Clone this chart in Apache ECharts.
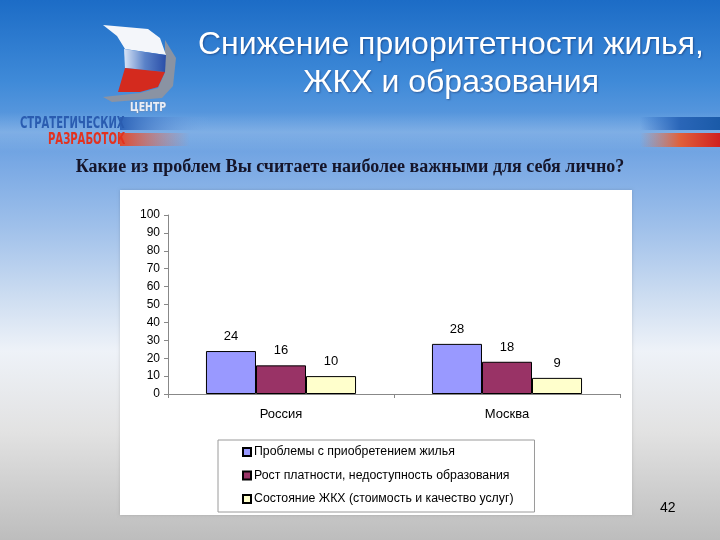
<!DOCTYPE html>
<html><head><meta charset="utf-8">
<script src="https://cdn.jsdelivr.net/npm/echarts@6/dist/echarts.min.js"></script>
<style>html,body{margin:0;padding:0;}#c{width:720px;height:540px;}</style>
</head><body><div id="c"></div>
<script>
const categories = ['Россия', 'Москва'];
const seriesNames = ['Проблемы с приобретением жилья', 'Рост платности, недоступность образования', 'Состояние ЖКХ (стоимость и качество услуг)'];
const housing = [24, 28];
const education = [16, 18];
const utilities = [10, 9];
const yTicks = [0, 10, 20, 30, 40, 50, 60, 70, 80, 90, 100];
const titleText = 'Снижение приоритетности жилья,\nЖКХ и образования';
const questionText = 'Какие из проблем Вы считаете наиболее важными для себя лично?';
const pageNumber = '42';

const colors = ['#9999FF', '#993366', '#FFFFCC'];
const chart = echarts.init(document.getElementById('c'));
const mk = (name, data, i) => ({
  name, type: 'bar', data, barGap: '0%', barCategoryGap: '33.6%',
  itemStyle: { color: colors[i], borderColor: '#000', borderWidth: 1 },
  label: { show: true, position: 'top', distance: 8, color: '#000', fontFamily: 'Liberation Sans, Arial', fontSize: 13 },
  z: 5
});
chart.setOption({
  backgroundColor: { type: 'linear', x: 0, y: 0, x2: 0, y2: 1, colorStops: [
    { offset: 0, color: '#1c6cc6' }, { offset: 0.15, color: '#3f8ad8' },
    { offset: 0.3, color: '#78a8e4' }, { offset: 0.42, color: '#9fc0ea' },
    { offset: 0.55, color: '#cdddf1' }, { offset: 0.65, color: '#eef2f8' },
    { offset: 0.8, color: '#e2e2e2' }, { offset: 1, color: '#bdbdbd' } ] },
  animation: false,
  title: [
    { text: titleText, left: 446, top: 21, textAlign: 'center',
      textStyle: { color: '#fff', fontFamily: 'Liberation Sans, Arial', fontWeight: 'normal', fontSize: 32, lineHeight: 38, align: 'center',
        textShadowColor: 'rgba(0,0,40,0.35)', textShadowBlur: 2, textShadowOffsetX: 1, textShadowOffsetY: 1 } },
    { text: questionText, left: 345, top: 153, textAlign: 'center',
      textStyle: { color: '#15152a', fontFamily: 'Liberation Serif, Times New Roman', fontWeight: 'bold', fontSize: 18 } },
    { text: pageNumber, left: 655, top: 496,
      textStyle: { color: '#000', fontFamily: 'Liberation Sans, Arial', fontWeight: 'normal', fontSize: 14 } }
  ],
  graphic: [
    { type: 'rect', shape: { x: 0, y: 112, width: 720, height: 40 }, style: { fill: { type: 'linear', x: 0, y: 0, x2: 0, y2: 1, colorStops: [{offset:0,color:'rgba(255,255,255,0)'},{offset:0.5,color:'rgba(255,255,255,0.18)'},{offset:1,color:'rgba(255,255,255,0)'}] } }, z: -5, silent: true },
    { type: 'rect', shape: { x: 120, y: 117, width: 90, height: 13 }, style: { fill: { type: 'linear', x: 0, y: 0, x2: 1, y2: 0, colorStops: [{offset:0,color:'#2d63b8'},{offset:1,color:'rgba(120,170,230,0)'}] } }, z: -4, silent: true },
    { type: 'rect', shape: { x: 120, y: 133, width: 70, height: 13 }, style: { fill: { type: 'linear', x: 0, y: 0, x2: 1, y2: 0, colorStops: [{offset:0,color:'#e04a30'},{offset:1,color:'rgba(230,120,90,0)'}] } }, z: -4, silent: true },
    { type: 'rect', shape: { x: 640, y: 117, width: 80, height: 13 }, style: { fill: { type: 'linear', x: 0, y: 0, x2: 1, y2: 0, colorStops: [{offset:0,color:'rgba(40,100,190,0)'},{offset:0.5,color:'#2a66b8'},{offset:1,color:'#1a5aa8'}] } }, z: -4, silent: true },
    { type: 'rect', shape: { x: 640, y: 133, width: 80, height: 14 }, style: { fill: { type: 'linear', x: 0, y: 0, x2: 1, y2: 0, colorStops: [{offset:0,color:'rgba(230,120,80,0)'},{offset:0.5,color:'#e0603a'},{offset:1,color:'#d02020'}] } }, z: -4, silent: true },
    { type: 'polygon', shape: { points: [[165,40],[176,58],[173,86],[162,98],[112,102],[103,97],[140,93],[158,88],[165,72]] }, style: { fill: '#8a93a3' }, z: -3, silent: true },
    { type: 'polygon', shape: { points: [[103,25],[148,29],[160,38],[166,55],[125,49],[117,36]] }, style: { fill: '#f4f6fa' }, z: -2, silent: true },
    { type: 'polygon', shape: { points: [[124,49],[166,55],[165,72],[125,68]] }, style: { fill: { type: 'linear', x: 0, y: 0, x2: 1, y2: 0, colorStops: [{offset:0,color:'#d8e4f6'},{offset:0.5,color:'#5a82c8'},{offset:1,color:'#2a4ea8'}] } }, z: -2, silent: true },
    { type: 'polygon', shape: { points: [[125,68],[165,72],[158,87],[140,92],[118,92]] }, style: { fill: '#d42a1e' }, z: -2, silent: true },
    { type: 'text', x: 130, y: 108, scaleX: 0.8, style: { x: 0, y: 0, text: 'ЦЕНТР', fill: '#e8eef8', stroke: '#7a869a', lineWidth: 0.6, font: 'bold 13px DejaVu Sans Condensed', textVerticalAlign: 'middle' }, z: -1, silent: true },
    { type: 'text', x: 20, y: 124, scaleX: 0.72, style: { x: 0, y: 0, text: 'СТРАТЕГИЧЕСКИХ', fill: '#2a5cb0', font: 'bold 15.5px DejaVu Sans Condensed', textVerticalAlign: 'middle' }, z: -1, silent: true },
    { type: 'text', x: 48, y: 140, scaleX: 0.72, style: { x: 0, y: 0, text: 'РАЗРАБОТОК', fill: '#e2321f', font: 'bold 15.5px DejaVu Sans Condensed', textVerticalAlign: 'middle' }, z: -1, silent: true },
    { type: 'rect', shape: { x: 120, y: 190, width: 512, height: 325 }, style: { fill: '#ffffff', shadowColor: 'rgba(0,0,0,0.15)', shadowBlur: 3 }, z: 0, silent: true }
  ],
  legend: {
    orient: 'vertical', left: 218, top: 440, itemWidth: 8, itemHeight: 8, itemGap: 7.5,
    padding: [4, 21, 5, 24], borderColor: '#9a9a9a', borderWidth: 1, backgroundColor: '#fff',
    icon: 'rect', selectedMode: false,
    textStyle: { color: '#000', fontFamily: 'Liberation Sans, Arial', fontSize: 12.3, lineHeight: 16, padding: [0,0,0,-2] },
    data: seriesNames, z: 6
  },
  grid: { left: 168, right: 100, top: 215, bottom: 146, containLabel: false },
  xAxis: {
    type: 'category', data: categories,
    axisLine: { lineStyle: { color: '#888', width: 1 } },
    axisTick: { show: true, length: 4, lineStyle: { color: '#888' } },
    axisLabel: { color: '#000', fontFamily: 'Liberation Sans, Arial', fontSize: 13, margin: 14 }
  },
  yAxis: {
    type: 'value', min: yTicks[0], max: yTicks[yTicks.length - 1], interval: yTicks[1] - yTicks[0],
    axisLine: { show: true, lineStyle: { color: '#888', width: 1 } },
    axisTick: { show: true, length: 4, lineStyle: { color: '#888' } },
    splitLine: { show: false },
    axisLabel: { color: '#000', fontFamily: 'Liberation Sans, Arial', fontSize: 12, margin: 8 }
  },
  series: [mk(seriesNames[0], housing, 0), mk(seriesNames[1], education, 1), mk(seriesNames[2], utilities, 2)]
});
</script></body></html>
